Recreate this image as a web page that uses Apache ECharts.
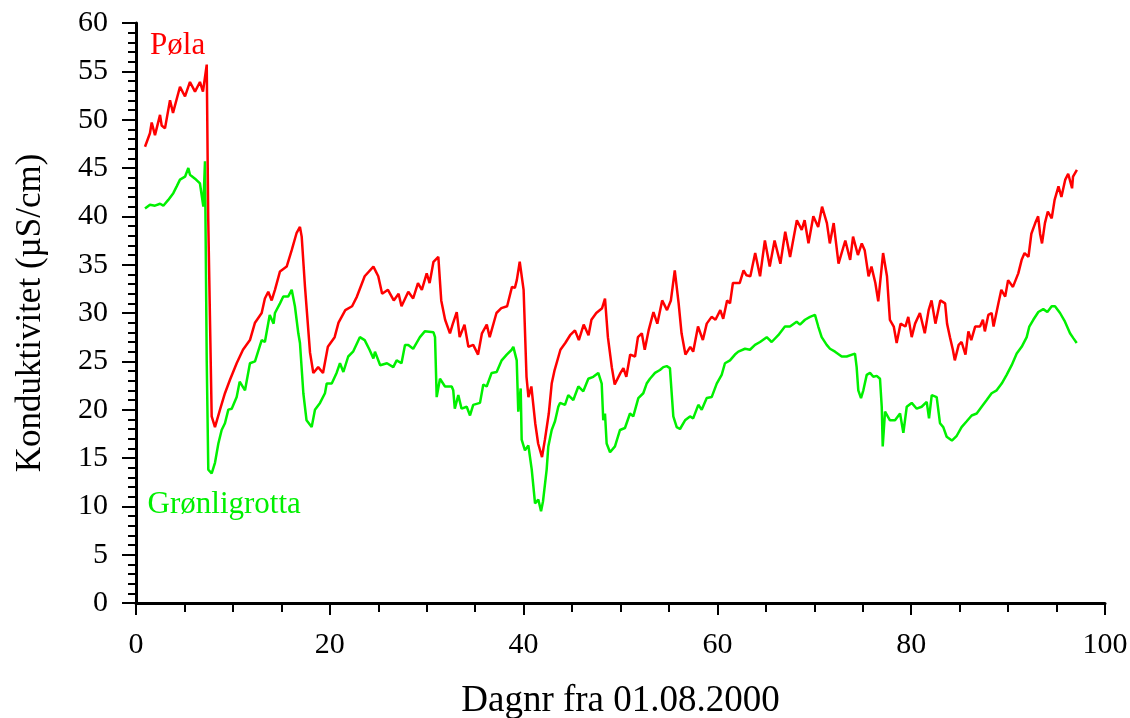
<!DOCTYPE html>
<html>
<head>
<meta charset="utf-8">
<script src="https://cdn.jsdelivr.net/npm/echarts@6/dist/echarts.min.js"></script>
<style>html,body{margin:0;padding:0;background:#fff}#c{width:1130px;height:718px}</style>
</head>
<body>
<div id="c"></div>
<script>
// ---- data (day number from 01.08.2000, conductivity µS/cm) ----
const poelaName = 'Pøla';
const grottaName = 'Grønligrotta';
const xTitle = 'Dagnr fra 01.08.2000';
const yTitle = 'Konduktivitet (µS/cm)';

const poelaDays = [0.93,1.44,1.62,1.96,2.48,2.65,2.99,3.51,3.82,4.54,5.06,5.57,6.09,6.6,6.91,7.3,7.45,7.81,8.15,8.67,9.18,9.7,10.39,11.04,11.76,12.28,12.97,13.3,13.65,14.0,14.34,14.86,15.55,16.07,16.58,16.92,17.1,17.44,17.96,18.3,18.8,19.3,19.8,20.5,20.9,21.6,22.3,22.8,23.6,24.5,25.0,25.4,26.0,26.6,27.1,27.4,27.6,28.1,28.6,29.1,29.5,30.0,30.3,30.7,31.2,31.5,31.9,32.4,32.7,33.1,33.4,33.9,34.3,34.8,35.3,35.7,36.2,36.5,37.2,37.7,38.3,38.8,39.1,39.3,39.6,40.0,40.3,40.5,40.8,41.2,41.5,41.9,42.2,42.6,42.9,43.2,43.8,44.3,44.8,45.3,45.7,46.2,46.7,47.0,47.5,48.1,48.4,48.7,49.1,49.4,50.0,50.3,50.6,51.0,51.5,51.8,52.2,52.5,52.9,53.4,53.8,54.3,54.8,55.2,55.6,56.0,56.3,56.7,57.2,57.5,58.0,58.5,58.9,59.4,59.8,60.3,60.6,61.0,61.3,61.6,62.3,62.7,63.0,63.4,63.9,64.4,64.9,65.4,65.9,66.5,67.0,67.5,68.2,68.7,69.0,69.4,69.9,70.4,70.8,71.3,71.6,72.0,72.5,73.2,73.7,74.0,74.5,74.9,75.2,75.6,75.9,76.3,76.6,77.1,77.5,77.8,78.2,78.5,78.9,79.4,79.7,80.05,80.4,80.9,81.4,81.8,82.1,82.5,83.0,83.5,83.7,84.0,84.3,84.5,84.9,85.2,85.6,85.9,86.2,86.6,87.1,87.4,87.6,87.96,88.3,88.5,89.0,89.3,89.7,90.0,90.5,91.05,91.4,91.7,92.1,92.4,92.8,93.1,93.3,93.5,93.8,94.1,94.5,94.8,95.2,95.5,95.9,96.2,96.6,96.7,97.1];
const poelaValues = [47.2,48.6,49.7,48.4,50.5,49.4,49.1,52.0,50.7,53.4,52.4,53.9,52.9,53.9,52.9,55.7,40.0,19.3,18.2,20.0,21.7,23.1,24.8,26.2,27.2,29.0,30.0,31.5,32.2,31.3,32.4,34.3,34.8,36.5,38.3,38.9,37.9,32.7,25.9,23.8,24.4,23.8,26.5,27.5,29.0,30.3,30.7,31.7,33.8,34.8,33.8,32.0,32.4,31.3,32.0,30.7,30.8,32.2,31.5,33.1,32.4,34.1,33.1,35.3,35.8,31.3,29.3,27.9,28.9,30.1,27.5,28.8,26.5,26.7,25.7,27.9,28.8,27.5,30.0,30.5,30.7,32.7,32.6,33.4,35.3,32.4,23.4,21.3,22.4,18.6,16.5,15.1,16.9,19.6,22.7,24.1,26.2,26.9,27.7,28.2,27.2,28.8,27.7,29.3,30.0,30.5,31.5,27.5,24.4,22.6,23.8,24.3,23.4,25.7,25.5,27.5,27.9,26.2,28.2,30.1,28.9,31.3,30.3,31.3,34.4,31.0,27.9,25.7,26.5,26.0,28.6,27.2,28.9,29.6,29.3,30.3,29.4,31.3,31.0,33.1,33.1,34.4,33.9,33.8,36.2,33.8,37.5,34.8,37.5,35.1,38.4,35.8,39.6,38.6,39.6,37.2,40.0,38.9,41.0,39.3,37.2,39.3,35.1,37.5,35.5,37.9,36.0,37.2,36.5,33.8,34.8,33.1,31.2,36.2,33.8,29.3,28.6,26.9,28.9,28.6,29.6,27.5,28.9,30.0,27.9,30.3,31.3,28.9,31.3,31.0,28.9,27.5,26.2,25.1,26.7,27.0,25.7,28.1,27.2,28.6,28.6,29.3,28.1,29.8,30.0,28.6,31.0,32.4,31.7,33.4,32.7,34.1,35.5,36.2,35.8,38.2,39.3,40.0,38.2,37.2,39.3,40.5,39.8,41.7,43.1,42.0,43.8,44.4,42.9,44.1,44.8];

const grottaDays = [0.93,1.44,1.96,2.48,2.82,3.33,3.85,4.2,4.54,5.06,5.4,5.57,6.09,6.6,6.95,7.12,7.3,7.46,7.81,8.15,8.5,8.84,9.18,9.53,9.88,10.39,10.7,11.25,11.76,12.28,12.97,13.3,13.8,14.2,14.34,14.86,15.2,15.7,16.07,16.4,16.75,16.92,17.27,17.6,18.13,18.47,18.99,19.5,19.68,20.2,20.7,21.05,21.4,21.9,22.4,23.1,23.6,24.1,24.5,24.66,25.2,25.9,26.55,26.9,27.4,27.76,28.1,28.6,29.3,29.8,30.7,30.86,31.03,31.37,31.89,32.58,32.74,32.9,33.26,33.6,34.13,34.47,34.8,35.5,35.84,36.19,36.7,37.22,37.74,38.26,38.77,38.94,39.29,39.45,39.7,39.8,40.14,40.49,40.84,41.18,41.52,41.8,42.0,42.38,42.55,42.9,43.24,43.58,43.76,44.27,44.61,45.13,45.65,46.16,46.68,47.19,47.71,48.06,48.22,48.4,48.57,48.92,49.43,49.95,50.46,50.98,51.32,51.84,52.35,52.7,53.04,53.56,54.07,54.42,54.77,55.1,55.28,55.45,55.8,56.14,56.66,57.17,57.5,58.03,58.38,58.9,59.41,59.93,60.44,60.78,61.3,61.81,62.16,62.85,63.36,63.88,64.4,65.09,65.6,66.28,66.97,67.49,68.18,68.52,69.04,69.56,70.07,70.41,70.76,71.28,71.62,72.14,72.83,73.34,74.2,74.37,74.54,74.82,75.06,75.41,75.75,76.09,76.44,76.78,76.96,77.06,77.3,77.81,78.33,78.85,79.19,79.54,80.05,80.57,81.08,81.6,81.84,82.12,82.63,82.97,83.31,83.66,84.2,84.7,85.2,85.73,86.24,86.76,87.27,87.79,88.3,88.82,89.34,89.85,90.37,90.89,91.4,91.92,92.19,92.6,93.12,93.63,94.05,94.5,94.84,95.36,95.87,96.39,96.73,97.08];
const grottaValues = [40.8,41.2,41.1,41.3,41.1,41.7,42.4,43.1,43.8,44.1,45.0,44.3,43.9,43.4,41.0,45.7,25.0,13.8,13.4,14.5,16.5,17.9,18.6,20.0,20.1,21.3,22.9,22.0,24.8,25.0,27.2,27.0,29.8,28.9,30.0,31.0,31.7,31.7,32.4,30.7,27.9,26.9,21.7,18.9,18.2,20.0,20.7,21.7,22.7,22.7,23.8,24.8,23.9,25.5,26.0,27.5,27.2,26.2,25.3,26.0,24.6,24.8,24.4,25.1,24.8,26.7,26.7,26.3,27.5,28.1,28.0,27.5,21.3,23.2,22.4,22.4,22.0,20.1,21.5,20.1,20.3,19.4,20.5,20.7,22.6,22.4,23.8,23.9,25.1,25.7,26.2,26.5,25.1,19.8,22.2,16.9,15.8,16.3,13.8,10.3,10.7,9.5,10.5,13.8,16.2,17.9,18.8,20.3,20.7,20.5,21.5,21.0,22.4,21.9,23.2,23.4,23.8,22.7,18.9,19.6,16.5,15.6,16.2,17.9,18.1,19.6,19.3,21.2,21.7,22.7,23.2,23.8,24.1,24.4,24.5,24.3,24.1,19.3,18.2,18.0,18.9,19.3,19.1,20.5,20.0,21.2,21.3,22.7,23.6,24.8,25.1,25.7,26.0,26.3,26.2,26.7,27.0,27.5,27.0,27.7,28.6,28.6,29.1,28.8,29.3,29.6,29.8,28.6,27.5,26.7,26.3,26.0,25.5,25.5,25.8,24.4,22.0,21.2,22.0,23.6,23.8,23.4,23.5,23.2,20.3,16.2,19.8,18.9,18.9,19.6,17.6,20.3,20.7,20.1,20.3,20.8,19.1,21.5,21.3,18.6,18.2,17.2,16.8,17.3,18.2,18.8,19.4,19.6,20.3,21.0,21.7,22.0,22.7,23.6,24.6,25.8,26.5,27.5,28.6,29.3,30.1,30.4,30.1,30.7,30.7,30.0,29.1,27.9,27.4,26.9];

// label anchor points (data units)
const poelaLabelAt = [4.3, 57.6];
const grottaLabelAt = [9.1, 10.2];

const xTicks = {min: 0, max: 100, interval: 20};
const yTicks = {min: 0, max: 60, interval: 5};

const zip = (a, b) => a.map((d, i) => [d, b[i]]);

const FONT = "'Liberation Serif','Times New Roman',serif";
const RED = '#ff0000';
const GREEN = '#00f000';

const chart = echarts.init(document.getElementById('c'), null, {renderer: 'canvas'});
chart.setOption({
  animation: false,
  backgroundColor: '#ffffff',
  grid: {left: 136, right: 25, top: 23, bottom: 115, containLabel: false, outerBoundsMode: 'none'},
  xAxis: {
    type: 'value', min: xTicks.min, max: xTicks.max, interval: xTicks.interval,
    name: xTitle, nameLocation: 'middle', nameGap: 80,
    nameTextStyle: {fontFamily: FONT, fontSize: 37, color: '#000'},
    axisLine: {show: true, onZero: false, lineStyle: {color: '#000', width: 3}},
    axisTick: {show: true, length: 12, lineStyle: {color: '#000', width: 2}},
    minorTick: {show: true, splitNumber: 4, length: 9, lineStyle: {color: '#000', width: 2}},
    axisLabel: {fontFamily: FONT, fontSize: 30, color: '#000', margin: 27},
    splitLine: {show: false}, minorSplitLine: {show: false}
  },
  yAxis: {
    type: 'value', min: yTicks.min, max: yTicks.max, interval: yTicks.interval,
    name: yTitle, nameLocation: 'middle', nameGap: 88,
    nameTextStyle: {fontFamily: FONT, fontSize: 35, color: '#000'},
    axisLine: {show: true, onZero: false, lineStyle: {color: '#000', width: 3}},
    axisTick: {show: true, length: 14, lineStyle: {color: '#000', width: 2}},
    minorTick: {show: true, splitNumber: 5, length: 8, lineStyle: {color: '#000', width: 2}},
    axisLabel: {fontFamily: FONT, fontSize: 30, color: '#000', margin: 28},
    splitLine: {show: false}, minorSplitLine: {show: false}
  },
  series: [
    {
      name: poelaName, type: 'line', data: zip(poelaDays, poelaValues),
      showSymbol: false, symbol: 'none', smooth: false,
      lineStyle: {color: RED, width: 2.5}, itemStyle: {color: RED}, z: 3,
      markPoint: {
        symbol: 'circle', symbolSize: 0, silent: true,
        data: [{coord: poelaLabelAt, value: poelaName}],
        label: {show: true, position: 'inside', formatter: poelaName, color: RED, fontFamily: FONT, fontSize: 31}
      }
    },
    {
      name: grottaName, type: 'line', data: zip(grottaDays, grottaValues),
      showSymbol: false, symbol: 'none', smooth: false,
      lineStyle: {color: GREEN, width: 2.5}, itemStyle: {color: GREEN}, z: 2,
      markPoint: {
        symbol: 'circle', symbolSize: 0, silent: true,
        data: [{coord: grottaLabelAt, value: grottaName}],
        label: {show: true, position: 'inside', formatter: grottaName, color: GREEN, fontFamily: FONT, fontSize: 31}
      }
    }
  ]
});
</script>
</body>
</html>
